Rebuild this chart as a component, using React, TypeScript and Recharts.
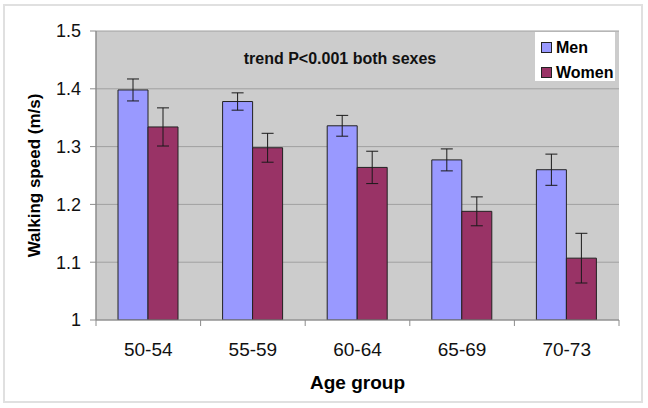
import React from 'react';
import {
  BarChart,
  Bar,
  XAxis,
  YAxis,
  CartesianGrid,
  ErrorBar,
  Legend,
} from 'recharts';

const categories = ['50-54', '55-59', '60-64', '65-69', '70-73'];
const menSpeed = [1.398, 1.378, 1.336, 1.277, 1.26];
const menErr = [0.019, 0.015, 0.018, 0.019, 0.027];
const womenSpeed = [1.334, 1.298, 1.264, 1.188, 1.107];
const womenErr = [0.033, 0.025, 0.028, 0.025, 0.043];
const yTicks = [1, 1.1, 1.2, 1.3, 1.4, 1.5];

const data = categories.map((c, i) => ({
  group: c,
  men: menSpeed[i],
  menErr: menErr[i],
  women: womenSpeed[i],
  womenErr: womenErr[i],
}));

const W = 648;
const H = 408;
const M = { top: 31, right: 29, left: 19, bottom: 7 };
const Y_AXIS_W = 77;
const PLOT_W = W - M.left - Y_AXIS_W - M.right;
const BAND = PLOT_W / categories.length;
const FONT = '"Liberation Sans", Arial, sans-serif';
const AXIS_GRAY = '#8c8c8c';

const XTick = (props: any) => {
  const { x, y, payload, index } = props;
  const half = BAND / 2;
  return (
    <g>
      <line x1={x - half} x2={x - half} y1={y} y2={y + 6} stroke={AXIS_GRAY} strokeWidth={1} />
      {index === categories.length - 1 && (
        <line x1={x + half} x2={x + half} y1={y} y2={y + 6} stroke={AXIS_GRAY} strokeWidth={1} />
      )}
      <text x={x} y={y + 36} textAnchor="middle" fontFamily={FONT} fontSize={19} fill="#111">
        {payload.value}
      </text>
    </g>
  );
};

const LegendBox = (props: any) => {
  const { payload } = props;
  return (
    <div
      style={{
        background: '#fff',
        width: 80,
        height: 49,
        boxSizing: 'border-box',
        padding: '6px 0 0 6px',
        fontFamily: FONT,
        fontWeight: 'bold',
        fontSize: 16,
        color: '#000',
        textAlign: 'left',
      }}
    >
      {(payload || []).map((p: any) => (
        <div key={p.value} style={{ display: 'flex', alignItems: 'center', height: 19, marginBottom: 6 }}>
          <span
            style={{
              display: 'inline-block',
              width: 9,
              height: 9,
              background: p.color,
              border: '1px solid #222',
              marginRight: 4,
            }}
          />
          <span>{p.value}</span>
        </div>
      ))}
    </div>
  );
};

export default function App() {
  return (
    <div style={{ position: 'absolute', left: 0, top: 0, width: W, height: H, background: '#fff' }}>
      <div
        style={{
          position: 'absolute',
          left: 3,
          top: 4,
          width: 640,
          height: 399,
          border: '2px solid #e0e0e0',
          boxSizing: 'border-box',
        }}
      />
      <div style={{ position: 'absolute', left: 0, top: 0 }}>
        <BarChart
          width={W}
          height={H}
          data={data}
          margin={M}
          barGap={0}
          barSize={30}
        >
          <CartesianGrid vertical={false} fill="#cccccc" stroke="#a0a0a0" strokeWidth={1} yAxisId="left" />
          <XAxis
            dataKey="group"
            tickSize={0}
            tickMargin={0}
            tick={<XTick />}
            axisLine={{ stroke: AXIS_GRAY, strokeWidth: 1 }}
            height={81}
            interval={0}
            label={{
              value: 'Age group',
              position: 'insideBottom',
              offset: 12,
              style: { fontFamily: FONT, fontWeight: 'bold', fontSize: 19, fill: '#000' },
            }}
          />
          <YAxis
            yAxisId="left"
            width={Y_AXIS_W}
            domain={[1, 1.5]}
            ticks={yTicks}
            allowDataOverflow
            tickSize={6}
            tickMargin={9}
            tickLine={{ stroke: AXIS_GRAY }}
            axisLine={{ stroke: AXIS_GRAY, strokeWidth: 1.5 }}
            tick={{ fontFamily: FONT, fontSize: 18, fill: '#111' }}
            tickFormatter={(v: number) => String(v)}
            label={{
              value: 'Walking speed (m/s)',
              angle: -90,
              position: 'insideLeft',
              offset: 15,
              style: { fontFamily: FONT, fontWeight: 'bold', fontSize: 17, fill: '#000', textAnchor: 'middle' },
            }}
          />
          <YAxis
            yAxisId="right"
            orientation="right"
            width={0}
            domain={[1, 1.5]}
            ticks={yTicks}
            tick={false}
            tickLine={false}
            axisLine={{ stroke: '#a0a0a0', strokeWidth: 1.5 }}
          />
          <Legend
            content={<LegendBox />}
            layout="horizontal"
            verticalAlign="middle"
            align="center"
            wrapperStyle={{ position: 'absolute', left: 535, top: 32, width: 80, height: 49 }}
          />
          <Bar yAxisId="left" dataKey="men" name="Men" fill="#9999ff" stroke="#222" strokeWidth={1} isAnimationActive={false}>
            <ErrorBar dataKey="menErr" width={6} stroke="#1a1a1a" strokeWidth={1} direction="y" />
          </Bar>
          <Bar yAxisId="left" dataKey="women" name="Women" fill="#993366" stroke="#222" strokeWidth={1} isAnimationActive={false}>
            <ErrorBar dataKey="womenErr" width={6} stroke="#1a1a1a" strokeWidth={1} direction="y" />
          </Bar>
        </BarChart>
      </div>
      <div
        style={{
          position: 'absolute',
          left: 190,
          top: 50,
          width: 300,
          textAlign: 'center',
          fontFamily: FONT,
          fontWeight: 'bold',
          fontSize: 16,
          lineHeight: '18px',
          color: '#111',
        }}
      >
        trend P&lt;0.001 both sexes
      </div>
    </div>
  );
}
